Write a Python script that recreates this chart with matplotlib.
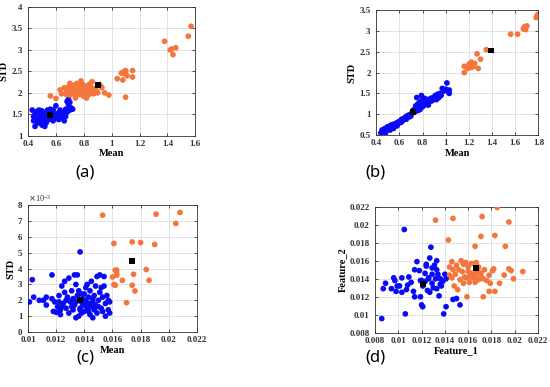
import matplotlib
matplotlib.use("Agg")
import matplotlib.pyplot as plt
import numpy as np

BLUE = "#0a0af5"
ORANGE = "#f5763c"

# ---------------- Panel (a) ----------------
a_blue_x = [0.43,0.44,0.44,0.45,0.45,0.46,0.46,0.47,0.47,0.48,0.48,0.48,0.49,0.49,0.50,0.50,0.50,0.51,0.51,0.52,
            0.52,0.53,0.53,0.54,0.54,0.55,0.55,0.56,0.57,0.58,0.58,0.59,0.60,0.60,0.61,0.62,0.63,0.63,0.64,0.65,
            0.66,0.67,0.67,0.68,0.68,0.69,0.69,0.70,0.70,0.71,0.72,0.66,0.62,0.47,0.52,0.56,0.45,0.50,0.53,0.57]
a_blue_y = [1.60,1.45,1.35,1.22,1.50,1.40,1.55,1.30,1.45,1.38,1.52,1.60,1.42,1.33,1.48,1.25,1.58,1.40,1.50,1.36,
            1.45,1.55,1.30,1.42,1.60,1.38,1.50,1.45,1.55,1.35,1.60,1.48,1.42,1.70,1.52,1.38,1.45,1.60,1.55,1.40,
            1.50,1.62,1.45,1.55,1.80,1.72,1.85,1.60,1.78,1.65,1.62,1.35,1.52,1.58,1.22,1.62,1.38,1.35,1.48,1.42]
a_orange_x = [0.56,0.60,0.63,0.64,0.66,0.67,0.68,0.69,0.70,0.71,0.72,0.72,0.73,0.74,0.74,0.75,0.75,0.76,0.76,0.77,
              0.77,0.78,0.78,0.79,0.79,0.80,0.80,0.81,0.81,0.82,0.82,0.83,0.84,0.85,0.86,0.86,0.87,0.88,0.90,0.92,
              0.93,0.95,0.98,0.74,0.70,0.78,0.84,0.89,1.04,1.07,1.08,1.09,1.10,1.10,1.08,1.11,1.15,1.15,1.10,
              1.38,1.42,1.44,1.43,1.46,1.55,1.57]
a_orange_y = [1.93,1.87,2.07,1.98,2.12,1.97,2.05,2.14,1.95,2.08,2.18,2.00,2.12,2.05,1.93,2.15,2.22,2.02,2.10,1.96,
              2.18,2.07,2.13,2.00,2.20,2.05,1.92,2.12,2.16,2.02,1.88,2.08,1.97,2.14,2.26,2.04,1.98,2.10,2.00,2.17,
              2.12,2.00,1.95,1.88,2.22,2.28,2.20,2.05,2.33,2.46,2.48,2.45,2.50,2.52,2.30,2.40,2.52,2.37,1.90,
              3.20,3.00,2.89,3.02,3.05,3.32,3.55]
a_cent_x = [0.56, 0.90]
a_cent_y = [1.49, 2.18]

# ---------------- Panel (b) ----------------
b_blue_x = [0.44,0.45,0.46,0.47,0.48,0.49,0.50,0.50,0.51,0.52,0.53,0.54,0.55,0.56,0.57,0.58,0.59,0.60,0.61,0.62,
            0.63,0.64,0.65,0.66,0.67,0.68,0.69,0.70,0.71,0.72,0.73,0.74,0.74,0.75,0.76,0.76,0.77,0.78,0.78,0.79,
            0.79,0.80,0.80,0.81,0.82,0.83,0.84,0.85,0.86,0.87,0.88,0.89,0.90,0.91,0.92,0.93,0.94,0.95,0.96,0.97,
            0.98,1.00,1.01,1.02,1.03,1.03,0.48,0.52,0.55,0.58,0.62,0.66,0.70,0.75,0.77,0.82,0.85,0.92,0.46,0.53]
b_blue_y = [0.55,0.62,0.58,0.65,0.60,0.68,0.63,0.70,0.66,0.72,0.68,0.75,0.70,0.77,0.74,0.80,0.78,0.83,0.80,0.88,
            0.85,0.90,0.92,0.88,0.95,0.98,0.94,1.00,1.03,1.10,1.05,1.12,1.20,1.08,1.15,1.25,1.18,1.30,1.12,1.45,
            1.22,1.35,1.18,1.28,1.22,1.30,1.25,1.35,1.30,1.38,1.32,1.40,1.36,1.45,1.42,1.48,1.40,1.50,1.45,1.62,
            1.55,1.60,1.75,1.55,1.50,1.58,0.55,0.62,0.66,0.72,0.82,0.95,0.96,1.40,1.10,1.38,1.22,1.35,0.52,0.74]
b_orange_x = [1.16,1.16,1.19,1.20,1.21,1.22,1.22,1.23,1.24,1.25,1.27,1.28,1.30,1.35,1.56,1.62,1.67,1.68,1.68,1.69,
              1.78,1.79,1.80,1.70]
b_orange_y = [2.15,2.00,2.10,2.20,2.15,2.25,2.12,2.18,2.15,2.22,2.45,2.10,2.32,2.55,2.92,2.92,3.05,3.10,3.08,3.03,
              3.32,3.38,3.40,3.12]
b_cent_x = [0.72, 1.39]
b_cent_y = [1.05, 2.53]

# ---------------- Panel (c) ----------------
c_blue_x = [0.0101,0.0103,0.0104,0.0108,0.0111,0.0113,0.0113,0.0117,0.0117,0.0118,0.0120,0.0119,0.0121,0.0122,
            0.0123,0.0123,0.0124,0.0125,0.0126,0.0126,0.0127,0.0128,0.0129,0.0129,0.0130,0.0131,0.0132,0.0132,
            0.0133,0.0133,0.0134,0.0134,0.0135,0.0135,0.0136,0.0136,0.0137,0.0137,0.0138,0.0138,0.0139,0.0139,
            0.0140,0.0140,0.0141,0.0141,0.0142,0.0142,0.0143,0.0143,0.0144,0.0144,0.0145,0.0145,0.0146,0.0146,
            0.0147,0.0147,0.0148,0.0148,0.0149,0.0149,0.0150,0.0150,0.0151,0.0151,0.0152,0.0153,0.0153,0.0154,
            0.0154,0.0155,0.0155,0.0156,0.0157,0.0157,0.0158,0.0158,0.0127,0.0131,0.0134,0.0136,0.0138,0.0140,
            0.0143,0.0146,0.0124,0.0122,0.0137,0.0152]
c_blue_y = [1.9,3.3,2.2,2.0,2.0,2.2,1.7,3.6,2.1,1.3,1.25,1.9,1.6,2.3,
            1.4,1.1,2.9,1.8,3.2,2.5,1.5,2.2,1.2,3.4,1.9,2.6,1.4,2.1,
            3.6,1.7,3.0,0.9,2.3,3.6,1.0,2.6,5.05,1.5,1.9,1.2,2.1,1.7,
            2.4,1.3,2.0,2.8,1.5,3.0,1.8,2.2,1.1,2.6,1.6,3.2,1.9,0.9,
            2.3,1.4,1.7,2.9,3.5,1.2,2.0,1.6,3.6,2.5,1.5,2.2,1.3,3.5,
            2.9,1.8,1.0,2.3,2.0,1.4,1.9,1.2,2.0,1.6,1.9,2.0,2.4,1.7,
            1.3,2.1,1.6,1.9,1.4,2.8]
c_orange_x = [0.0153,0.0161,0.0174,0.0180,0.0190,0.0191,0.0208,0.0205,0.0163,0.0163,0.0163,0.0160,0.0161,0.0162,
              0.0167,0.0175,0.0184,0.0186,0.0174,0.0176,0.0170,0.0162]
c_orange_y = [7.37,5.58,5.68,5.64,5.52,7.43,7.54,6.84,3.90,3.68,3.58,3.47,2.99,2.95,
              3.26,3.64,3.94,3.26,2.95,2.59,1.85,3.90]
c_cent_x = [0.01368, 0.0174]
c_cent_y = [2.04, 4.46]

# ---------------- Panel (d) ----------------
d_blue_x = [0.00857,0.01051,0.0106,0.0087,0.0089,0.0094,0.0096,0.0097,0.0098,0.0099,0.0103,0.0103,0.0107,0.0108,
            0.0109,0.0113,0.0114,0.0114,0.0116,0.0118,0.0119,0.0119,0.0120,0.0121,0.0121,0.0123,0.0124,0.0125,
            0.0126,0.0127,0.0127,0.0128,0.0129,0.0129,0.0130,0.0131,0.0132,0.0133,0.0133,0.0134,0.0135,0.0136,
            0.0136,0.0137,0.0139,0.0140,0.0141,0.0142,0.0147,0.0150,0.0153,0.0124,0.0126,0.0133,0.0129,0.0120,
            0.0123,0.0141,0.0138,0.0111,0.0101]
d_blue_y = [0.00958,0.01946,0.0101,0.0129,0.0135,0.0129,0.0141,0.0138,0.0126,0.0132,0.0141,0.0125,0.0128,0.0133,
            0.0142,0.0126,0.0120,0.0150,0.0159,0.0149,0.0138,0.0120,0.0111,0.0109,0.0132,0.0146,0.0154,0.0127,
            0.0141,0.0125,0.0163,0.0175,0.0135,0.0152,0.0130,0.0155,0.0140,0.0160,0.0129,0.0145,0.0121,0.0140,
            0.0134,0.0132,0.0101,0.0145,0.0109,0.0143,0.0117,0.0118,0.0111,0.0156,0.0140,0.0150,0.0145,0.0138,
            0.0137,0.0140,0.0137,0.0136,0.0132]
d_orange_x = [0.0132,0.0147,0.0143,0.0172,0.0185,0.0171,0.0183,0.0195,0.0166,0.0192,0.0146,0.0150,0.0154,0.0156,
              0.0158,0.0160,0.0163,0.0167,0.0169,0.0174,0.0181,0.0182,0.0195,0.0197,0.0207,0.0191,0.0199,0.0187,
              0.0183,0.0178,0.0173,0.0159,0.0151,0.0148,0.0146,0.0149,0.0153,0.0156,0.0157,0.0160,0.0161,0.0163,
              0.0164,0.0165,0.0166,0.0167,0.0169,0.0171,0.0173,0.0176,0.0179,0.0178,0.0152,0.0147,0.0144,0.0155,
              0.0158,0.0168,0.0171,0.0166,0.0161,0.0144]
d_orange_y = [0.0205,0.0207,0.0183,0.0209,0.0219,0.0187,0.0188,0.0203,0.0176,0.0176,0.0159,0.0155,0.0160,0.0156,
              0.0158,0.0153,0.0157,0.0158,0.0153,0.0150,0.0149,0.0151,0.0151,0.0149,0.0148,0.0144,0.0140,0.0135,
              0.0126,0.0126,0.0120,0.0120,0.0128,0.0132,0.0141,0.0145,0.0139,0.0135,0.0142,0.0148,0.0142,0.0146,
              0.0141,0.0144,0.0142,0.0146,0.0139,0.0142,0.0140,0.0138,0.0135,0.0144,0.0150,0.0150,0.0153,0.0148,
              0.0141,0.0150,0.0146,0.0136,0.0136,0.0144]
d_cent_x = [0.01214, 0.01666]
d_cent_y = [0.01345, 0.01515]

TICKFONT = dict(family="Liberation Serif", weight="bold", size=6.5)
LABFONT = dict(family="Liberation Serif", weight="bold", size=7.5)

fig = plt.figure(figsize=(5.5, 3.87), dpi=100)

def style(ax, xlim, ylim, xticks, yticks, xlabel, ylabel):
    ax.set_xlim(*xlim)
    ax.set_ylim(*ylim)
    ax.set_xticks(xticks)
    ax.set_yticks(yticks)
    ax.set_xticklabels(["%g" % v for v in xticks], **TICKFONT)
    ax.set_yticklabels(["%g" % v for v in yticks], **TICKFONT)
    ax.set_xlabel(xlabel, labelpad=1, **LABFONT)
    ax.set_ylabel(ylabel, labelpad=2, **LABFONT)
    ax.grid(True, color="#dddddd", linewidth=0.6)
    ax.set_axisbelow(True)
    ax.tick_params(axis="x", direction="in", length=2.5, width=0.6, pad=3, top=True, colors="#333333")
    ax.tick_params(axis="y", direction="in", length=2.5, width=0.6, pad=4, right=True, colors="#333333")
    for s in ax.spines.values():
        s.set_linewidth(0.6)
        s.set_color("#333333")

def scatter(ax, bx, by, ox, oy, cx, cy):
    ax.scatter(bx, by, s=17, color=BLUE, edgecolors="none", zorder=3)
    ax.scatter(ox, oy, s=17, color=ORANGE, edgecolors="none", zorder=3)
    ax.scatter(cx, cy, s=18, color="black", marker="s", edgecolors="none", zorder=4)

# (a)
ax = fig.add_axes([0.051, 0.649, 0.304, 0.333])
scatter(ax, a_blue_x, a_blue_y, a_orange_x, a_orange_y, a_cent_x, a_cent_y)
style(ax, (0.4, 1.6), (1, 4), [0.4, 0.6, 0.8, 1.0, 1.2, 1.4, 1.6], [1, 1.5, 2, 2.5, 3, 3.5, 4], "Mean", "STD")

# (b)
ax = fig.add_axes([0.684, 0.651, 0.295, 0.323])
scatter(ax, b_blue_x, b_blue_y, b_orange_x, b_orange_y, b_cent_x, b_cent_y)
style(ax, (0.4, 1.8), (0.5, 3.5), [0.4, 0.6, 0.8, 1.0, 1.2, 1.4, 1.6, 1.8], [0.5, 1, 1.5, 2, 2.5, 3, 3.5],
      "Mean", "STD")

# (c)
ax = fig.add_axes([0.051, 0.142, 0.307, 0.328])
scatter(ax, c_blue_x, c_blue_y, c_orange_x, c_orange_y, c_cent_x, c_cent_y)
style(ax, (0.01, 0.022), (0, 8), [0.01, 0.012, 0.014, 0.016, 0.018, 0.02, 0.022], [0, 1, 2, 3, 4, 5, 6, 7, 8],
      "Mean", "STD")
ax.text(0.0, 1.01, r"$\times\mathregular{10^{-3}}$", transform=ax.transAxes, fontsize=6,
        family="Liberation Serif", va="bottom", ha="left", color="#333333")

# (d)
ax = fig.add_axes([0.682, 0.140, 0.296, 0.326])
scatter(ax, d_blue_x, d_blue_y, d_orange_x, d_orange_y, d_cent_x, d_cent_y)
ticks_d = [0.008, 0.01, 0.012, 0.014, 0.016, 0.018, 0.02, 0.022]
style(ax, (0.008, 0.022), (0.008, 0.022), ticks_d, ticks_d, "Feature_1", "Feature_2")

for lab, x, y in [("(a)", 0.155, 0.553), ("(b)", 0.682, 0.553), ("(c)", 0.155, 0.077), ("(d)", 0.682, 0.077)]:
    fig.text(x, y, lab, ha="center", va="center", fontsize=12, family="Noto Sans")

fig.savefig("out.png", dpi=100)
